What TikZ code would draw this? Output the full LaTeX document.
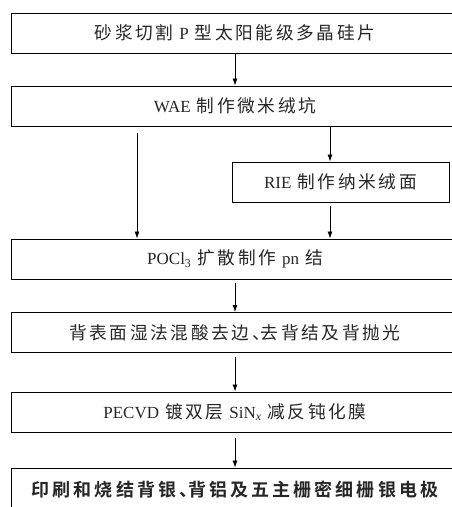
\documentclass[tikz,border=0pt]{standalone}
\usepackage{fontspec}
\setmainfont{Liberation Serif}
\newfontfamily\cjk[Scale=1.04,LetterSpace=15]{Noto Sans CJK SC}
\newfontfamily\cjkbold[Scale=1.06,LetterSpace=17,BoldFont={Noto Sans CJK SC Bold}]{Noto Sans CJK SC}
\newcommand\zh[1]{{\cjk #1}}
\newcommand\dun{、\hspace{-9pt}}
\newcommand\gap{\hspace{6pt}}
\usetikzlibrary{arrows.meta}
\definecolor{TextClr}{rgb}{0.15,0.15,0.15}

\begin{document}
\begin{tikzpicture}[x=1pt,y=-1pt,
  stepbox/.style={draw=black,line width=1pt,minimum width=448pt,minimum height=40pt,
    inner sep=0pt,text=TextClr,font=\fontsize{17}{19}\selectfont},
  flow/.style={line width=0.8pt,-{Latex[length=7pt,width=5pt]}}]
\useasboundingbox (0,0) rectangle (452,507);
\clip (0,0) rectangle (452,507);

\node[stepbox] (wafer) at (235,33) {\zh{砂浆切割}\gap P\gap\zh{型太阳能级多晶硅片}};
\node[stepbox] (wae) at (235,106) {WAE\gap\zh{制作微米绒坑}};
\node[stepbox,minimum width=217pt] (rie) at (340.5,182) {RIE\gap\zh{制作纳米绒面}};
\node[stepbox] (pocl) at (235,259) {POCl\textsubscript{3}\gap\zh{扩散制作}\gap pn\gap\zh{结}};
\node[stepbox] (etch) at (235,332.5) {\zh{背表面湿法混酸去边\dun 去背结及背抛光}};
\node[stepbox] (pecvd) at (235,412) {PECVD\gap\zh{镀双层}\gap SiN\textsubscript{\textit{x}}\gap\zh{减反钝化膜}};
\node[stepbox,minimum height=44pt] (print) at (235,490) {{\cjkbold\bfseries 印刷和烧结背银\dun 背铝及五主栅密细栅银电极}};

\coordinate (skip) at (137,0);
\coordinate (branch) at (330,0);

\draw[flow] (wafer) -- (wae);
\draw[flow] (wae.south -| branch) -- (rie.north -| branch);
\draw[flow,shorten <=6pt] (wae.south -| skip) -- (pocl.north -| skip);
\draw[flow,shorten <=3pt] (rie.south -| branch) -- (pocl.north -| branch);
\draw[flow,shorten <=3pt] (pocl) -- (etch);
\draw[flow,shorten <=4pt] (etch) -- (pecvd);
\draw[flow,shorten <=5pt] (pecvd) -- (print);

\end{tikzpicture}
\end{document}
